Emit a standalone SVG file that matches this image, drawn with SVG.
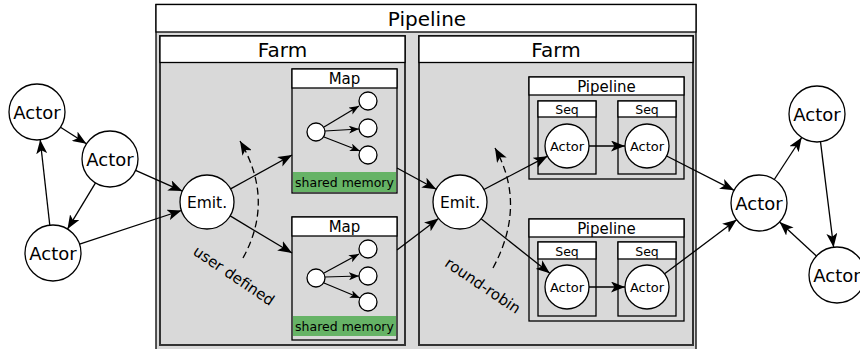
<svg xmlns="http://www.w3.org/2000/svg" width="860" height="349" viewBox="0 0 860 349">
<defs>
<marker id="ah" markerUnits="userSpaceOnUse" markerWidth="15" markerHeight="11" viewBox="0 0 15 11" refX="14" refY="5.5" orient="auto">
<path d="M0,0 L14,5.5 L0,11 L3.5,5.5 z" fill="#000"/>
</marker>
<marker id="ahs" markerUnits="userSpaceOnUse" markerWidth="10" markerHeight="8" viewBox="0 0 10 8" refX="10" refY="4" orient="auto">
<path d="M0,0 L10,4 L0,8 L2.5,4 z" fill="#000"/>
</marker>
<style>
text{font-family:"DejaVu Sans","Liberation Sans",sans-serif;fill:#000;text-anchor:middle}
.box{fill:#d9d9d9;stroke:#000;stroke-width:1.3}
.farm{fill:#d9d9d9;stroke:#333;stroke-width:2}
.hdr{fill:#fff;stroke:#000;stroke-width:1.3}
.node{fill:#fff;stroke:#000;stroke-width:1.3}
.e{stroke:#000;stroke-width:1.3;fill:none;marker-end:url(#ah)}
.es{stroke:#000;stroke-width:1.2;fill:none;marker-end:url(#ahs)}
.d{stroke:#000;stroke-width:1.3;fill:none;stroke-dasharray:7,4;marker-end:url(#ah)}
.green{fill:#66b366}
.big{font-size:18px}
.t20{font-size:20px}
.t15{font-size:15px}
.t155{font-size:15.5px}
.t125{font-size:12.5px}
.t13{font-size:13px}
</style>
</defs>

<g id="outer-pipeline">
<rect class="box" x="156" y="4.5" width="540" height="360"/>
<rect class="hdr" x="156" y="4.5" width="540" height="27.5"/>
<text class="t20" x="427" y="25.5">Pipeline</text>
</g>

<g id="farm1">
<rect class="farm" x="160" y="36" width="245" height="309"/>
<rect class="hdr" x="160" y="36" width="245" height="26.5"/>
<text class="t20" x="282.5" y="57">Farm</text>
</g>

<g id="farm2">
<rect class="farm" x="419" y="36" width="274" height="309"/>
<rect class="hdr" x="419" y="36" width="274" height="26.5"/>
<text class="t20" x="556" y="57">Farm</text>
</g>

<g id="map1">
<rect class="box" x="292" y="69" width="105" height="124"/>
<rect class="hdr" x="292" y="69" width="105" height="19"/>
<text class="t15" x="344.5" y="84">Map</text>
<rect class="green" x="293" y="172" width="103" height="20"/>
<text class="t125" x="344.5" y="186.5">shared memory</text>
<circle class="node" cx="316" cy="132" r="9"/>
<circle class="node" cx="368" cy="101" r="9"/>
<circle class="node" cx="368" cy="128" r="9"/>
<circle class="node" cx="368" cy="155" r="9"/>
<line class="es" x1="324" y1="127" x2="359" y2="106"/>
<line class="es" x1="325" y1="131" x2="359" y2="129"/>
<line class="es" x1="324" y1="137" x2="360" y2="151"/>
</g>

<g id="map2">
<rect class="box" x="292" y="217" width="105" height="123"/>
<rect class="hdr" x="292" y="217" width="105" height="19"/>
<text class="t15" x="344.5" y="232">Map</text>
<rect class="green" x="293" y="316" width="103" height="20"/>
<text class="t125" x="344.5" y="330.5">shared memory</text>
<circle class="node" cx="316" cy="278" r="9"/>
<circle class="node" cx="368" cy="249" r="9"/>
<circle class="node" cx="368" cy="276" r="9"/>
<circle class="node" cx="368" cy="302" r="9"/>
<line class="es" x1="324" y1="273" x2="359" y2="254"/>
<line class="es" x1="325" y1="277" x2="359" y2="276"/>
<line class="es" x1="324" y1="283" x2="360" y2="298"/>
</g>

<g id="pipeline1">
<rect class="box" x="529" y="77" width="155" height="102"/>
<rect class="hdr" x="529" y="77" width="155" height="18"/>
<text class="t15" x="606.5" y="91.5">Pipeline</text>
<rect class="box" x="538" y="101" width="58" height="73"/>
<rect class="hdr" x="538" y="101" width="58" height="16"/>
<text class="t125" x="567" y="114">Seq</text>
<rect class="box" x="618" y="101" width="58" height="73"/>
<rect class="hdr" x="618" y="101" width="58" height="16"/>
<text class="t125" x="647" y="114">Seq</text>
</g>

<g id="pipeline2">
<rect class="box" x="529" y="219" width="155" height="102"/>
<rect class="hdr" x="529" y="219" width="155" height="18"/>
<text class="t15" x="606.5" y="233.5">Pipeline</text>
<rect class="box" x="538" y="242" width="58" height="74"/>
<rect class="hdr" x="538" y="242" width="58" height="17"/>
<text class="t125" x="567" y="255.5">Seq</text>
<rect class="box" x="618" y="242" width="58" height="74"/>
<rect class="hdr" x="618" y="242" width="58" height="17"/>
<text class="t125" x="647" y="255.5">Seq</text>
</g>

<g id="actor-a"><circle class="node" cx="37" cy="112" r="28"/><text class="big" x="37" y="118.5">Actor</text></g>
<g id="actor-b"><circle class="node" cx="110" cy="159" r="28"/><text class="big" x="110" y="165.5">Actor</text></g>
<g id="actor-c"><circle class="node" cx="53" cy="253" r="28"/><text class="big" x="53" y="259.5">Actor</text></g>
<g id="emit1"><circle class="node" cx="207" cy="202" r="27"/><text class="t155" x="207" y="207.5">Emit.</text></g>
<g id="emit2"><circle class="node" cx="460" cy="202" r="27"/><text class="t155" x="460" y="207.5">Emit.</text></g>
<g id="p1a"><circle class="node" cx="567" cy="146" r="22"/><text class="t13" x="567" y="150.5">Actor</text></g>
<g id="p1b"><circle class="node" cx="647" cy="146" r="22"/><text class="t13" x="647" y="150.5">Actor</text></g>
<g id="p2a"><circle class="node" cx="567" cy="287" r="22"/><text class="t13" x="567" y="291.5">Actor</text></g>
<g id="p2b"><circle class="node" cx="647" cy="287" r="22"/><text class="t13" x="647" y="291.5">Actor</text></g>
<g id="actor-r"><circle class="node" cx="759" cy="203" r="28"/><text class="big" x="759" y="209.5">Actor</text></g>
<g id="actor-tr"><circle class="node" cx="817" cy="114" r="28"/><text class="big" x="817" y="120.5">Actor</text></g>
<g id="actor-br"><circle class="node" cx="837" cy="275" r="28"/><text class="big" x="837" y="281.5">Actor</text></g>

<g id="connectors">
<line class="e" x1="60.5" y1="127.2" x2="86.4" y2="143.8"/>
<line class="e" x1="95.5" y1="182.9" x2="67.5" y2="229.1"/>
<line class="e" x1="49.8" y1="225.2" x2="40.2" y2="139.8"/>
<line class="e" x1="135.6" y1="170.3" x2="182.3" y2="191.1"/>
<line class="e" x1="79.6" y1="244.2" x2="181.4" y2="210.5"/>
<line class="e" x1="230.6" y1="188.9" x2="292" y2="155"/>
<line class="e" x1="230.2" y1="215.9" x2="292" y2="253"/>
<line class="e" x1="397" y1="168" x2="436.2" y2="189.2"/>
<line class="e" x1="397" y1="250" x2="438.5" y2="218.4"/>
<line class="e" x1="483.9" y1="189.5" x2="547.5" y2="156.2"/>
<line class="e" x1="481.1" y1="218.8" x2="549.8" y2="273.3"/>
<line class="e" x1="589" y1="146" x2="625" y2="146"/>
<line class="e" x1="589" y1="287" x2="625" y2="287"/>
<line class="e" x1="666.6" y1="156" x2="734.1" y2="190.3"/>
<line class="e" x1="664.6" y1="273.8" x2="736.6" y2="219.8"/>
<line class="e" x1="774.3" y1="179.5" x2="801.7" y2="137.5"/>
<line class="e" x1="820.5" y1="141.8" x2="833.6" y2="247.2"/>
<line class="e" x1="816.4" y1="256" x2="779.6" y2="222"/>
<path class="d" d="M243,258 Q275,200 240,141"/>
<path class="d" d="M493,268 Q527,205 495,148"/>
</g>

<text class="t15" transform="translate(231,280) rotate(34)" x="0" y="0">user defined</text>
<text class="t15" transform="translate(480,290) rotate(34)" x="0" y="0">round-robin</text>
</svg>
